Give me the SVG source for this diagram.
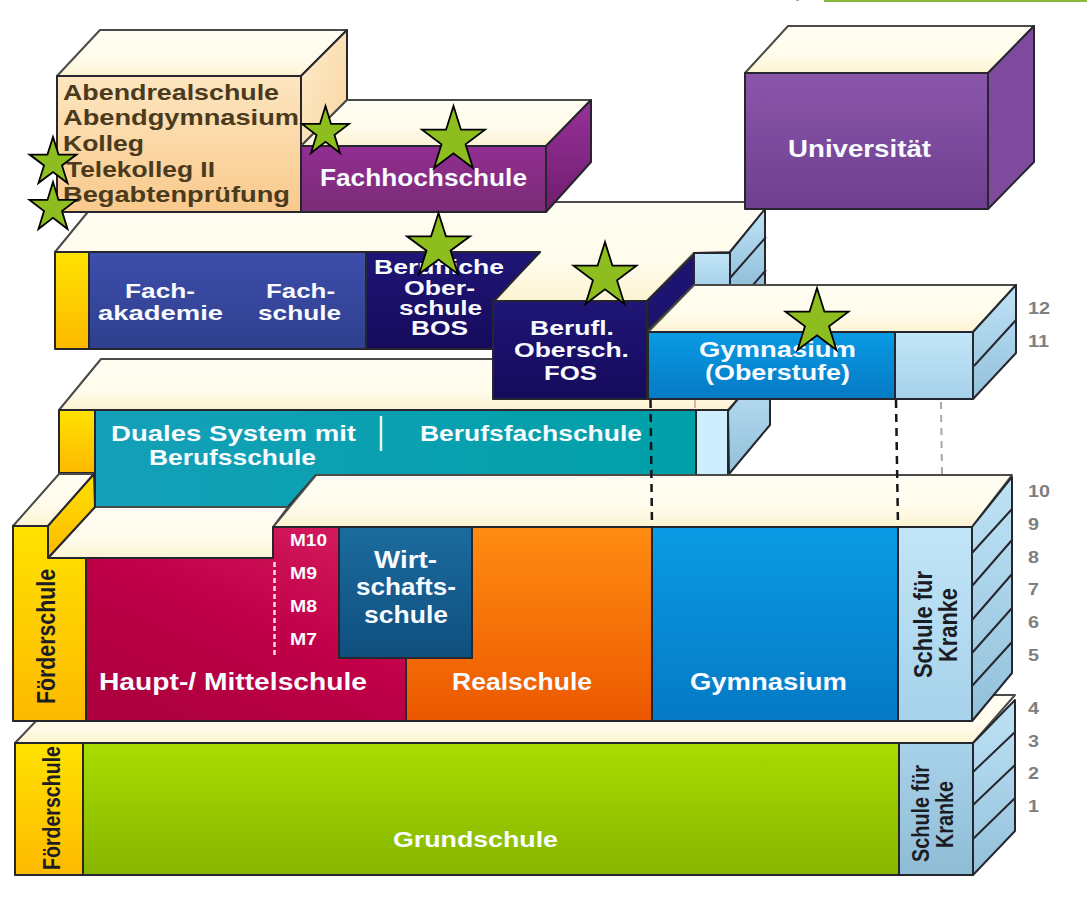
<svg xmlns="http://www.w3.org/2000/svg" width="1087" height="905" viewBox="0 0 1087 905">
<defs>
<linearGradient id="gCream" x1="0" y1="0" x2="0" y2="1"><stop offset="0" stop-color="#fffdf3"/><stop offset="0.6" stop-color="#fffcec"/><stop offset="1" stop-color="#fcf3d2"/></linearGradient>
<linearGradient id="gAbend" x1="0" y1="0" x2="0" y2="1"><stop offset="0" stop-color="#fde6c0"/><stop offset="1" stop-color="#f9c98c"/></linearGradient>
<linearGradient id="gAbendS" x1="0" y1="0" x2="1" y2="1"><stop offset="0" stop-color="#feeccd"/><stop offset="1" stop-color="#f9d59e"/></linearGradient>
<linearGradient id="gFH" x1="0" y1="0" x2="0" y2="1"><stop offset="0" stop-color="#922d92"/><stop offset="1" stop-color="#7a2d76"/></linearGradient>
<linearGradient id="gFHS" x1="0" y1="0" x2="0" y2="1"><stop offset="0" stop-color="#97329a"/><stop offset="1" stop-color="#701c6e"/></linearGradient>
<linearGradient id="gUni" x1="0" y1="0" x2="0" y2="1"><stop offset="0" stop-color="#8b56aa"/><stop offset="1" stop-color="#6e3f8f"/></linearGradient>
<linearGradient id="gYel" x1="0" y1="0" x2="0" y2="1"><stop offset="0" stop-color="#ffe200"/><stop offset="1" stop-color="#fdb900"/></linearGradient>
<linearGradient id="gBlue" x1="0" y1="0" x2="0" y2="1"><stop offset="0" stop-color="#3d4eab"/><stop offset="1" stop-color="#2f3f8e"/></linearGradient>
<linearGradient id="gNavy" x1="0" y1="0" x2="0" y2="1"><stop offset="0" stop-color="#1f1676"/><stop offset="1" stop-color="#160a5c"/></linearGradient>
<linearGradient id="gGym" x1="0" y1="0" x2="0" y2="1"><stop offset="0" stop-color="#0a9be4"/><stop offset="1" stop-color="#0579c4"/></linearGradient>
<linearGradient id="gLight" x1="0" y1="0" x2="0" y2="1"><stop offset="0" stop-color="#c2e5f8"/><stop offset="1" stop-color="#a6d2ea"/></linearGradient>
<linearGradient id="gLight2" x1="0" y1="0" x2="0" y2="1"><stop offset="0" stop-color="#a8d2ea"/><stop offset="1" stop-color="#8fbcd5"/></linearGradient>
<linearGradient id="gSide" x1="0" y1="0" x2="0" y2="1"><stop offset="0" stop-color="#bfe3f6"/><stop offset="1" stop-color="#92c0da"/></linearGradient>
<linearGradient id="gTeal" x1="0" y1="0" x2="1" y2="0"><stop offset="0" stop-color="#14a0b8"/><stop offset="1" stop-color="#00a0a8"/></linearGradient>
<linearGradient id="gRed" x1="1" y1="0" x2="0.3" y2="1"><stop offset="0" stop-color="#d82060"/><stop offset="0.55" stop-color="#c00048"/><stop offset="1" stop-color="#ae003e"/></linearGradient>
<linearGradient id="gOr" x1="0" y1="0" x2="0" y2="1"><stop offset="0" stop-color="#ff8c12"/><stop offset="1" stop-color="#ec5800"/></linearGradient>
<linearGradient id="gWirt" x1="0" y1="0" x2="0" y2="1"><stop offset="0" stop-color="#1c6b9e"/><stop offset="1" stop-color="#0f4f7e"/></linearGradient>
<linearGradient id="gGreen" x1="0" y1="0" x2="0" y2="1"><stop offset="0" stop-color="#a8dc00"/><stop offset="1" stop-color="#87b600"/></linearGradient>
<polygon id="star" vector-effect="non-scaling-stroke" points="0,0 .118,.382 .5,.382 .191,.618 .309,1 0,.764 -.309,1 -.191,.618 -.5,.382 -.118,.382"/>
</defs>
<style>
.e{stroke:#26262e;stroke-width:2;stroke-linejoin:round}
.c{fill:url(#gCream);stroke:#4a4a48;stroke-width:2;stroke-linejoin:round}
.d{stroke:#26262e;stroke-width:2;fill:none}
text{font-family:"Liberation Sans",Arial,sans-serif;font-weight:700}
.w{fill:#f8fbff}
.k{fill:#1c1c24}
.b{fill:#4a3a1e}
.n{fill:#7f7f7f}
.s{fill:#8dbd1e;stroke:#000;stroke-width:1.800;stroke-linejoin:miter}
.dash{fill:none;stroke:#15151a;stroke-width:2.500;stroke-dasharray:8 6}
</style>
<rect width="1087" height="905" fill="#fff"/>
<rect x="824" y="0" width="263" height="2" fill="#86b83a"/>
<rect x="796" y="0" width="3" height="1" fill="#aaa"/>

<g id="node-fachakademie-reihe">
<polygon class="c" points="55,252 96,202 771,202 730,252 694,253 647,301 493,301 540,252"/>
<polygon points="730,252 765,209 765,285 730,285" fill="url(#gSide)" class="e"/>
<path class="d" d="M730,278 L766,237 M753,285 L766,270"/>
<rect x="694" y="253" width="36" height="32" fill="url(#gLight)" class="e"/>
<rect x="55" y="252" width="34" height="97" fill="url(#gYel)" class="e"/>
<rect x="89" y="252" width="277" height="97" fill="url(#gBlue)" class="e"/>
<polygon points="366,252 540,252 495,300 493,349 366,349" fill="url(#gNavy)" class="e"/>
<text class="w" x="125" y="298" font-size="21" textLength="70" lengthAdjust="spacingAndGlyphs">Fach-</text>
<text class="w" x="98" y="320" font-size="21" textLength="125" lengthAdjust="spacingAndGlyphs">akademie</text>
<text class="w" x="266" y="298" font-size="21" textLength="69" lengthAdjust="spacingAndGlyphs">Fach-</text>
<text class="w" x="258" y="320" font-size="21" textLength="83" lengthAdjust="spacingAndGlyphs">schule</text>
<text class="w" x="374" y="274" font-size="20" textLength="130" lengthAdjust="spacingAndGlyphs">Berufliche</text>
<text class="w" x="404" y="295" font-size="20" textLength="71" lengthAdjust="spacingAndGlyphs">Ober-</text>
<text class="w" x="399" y="315" font-size="20" textLength="83" lengthAdjust="spacingAndGlyphs">schule</text>
<text class="w" x="411" y="335" font-size="20" textLength="57" lengthAdjust="spacingAndGlyphs">BOS</text>
</g>

<g id="node-duales-system">
<polygon class="c" points="59,410 101,359 775,359 728,410"/>
<polygon points="728,411 770,360 770,425 729,474" fill="url(#gSide)" class="e"/>
<rect x="59" y="410" width="36" height="63" fill="url(#gYel)" class="e"/>
<polygon points="95,410 696,410 696,475 316,475 288,507 95,507" fill="url(#gTeal)" class="e"/>
<rect x="696" y="410" width="32" height="65" fill="#cdeefc" class="e"/>
<path d="M381,416 V451" stroke="#e8f6f8" stroke-width="2.500" fill="none"/>
<text class="w" x="111" y="441" font-size="22" textLength="245" lengthAdjust="spacingAndGlyphs">Duales System mit</text>
<text class="w" x="149" y="465" font-size="22" textLength="167" lengthAdjust="spacingAndGlyphs">Berufsschule</text>
<text class="w" x="420" y="441" font-size="22" textLength="222" lengthAdjust="spacingAndGlyphs">Berufsfachschule</text>
</g>

<g id="node-universitaet">
<polygon class="c" points="745,73 788,26 1034,26 988,73"/>
<polygon points="988,73 1034,26 1034,162 988,209" fill="#7d4a9e" class="e"/>
<rect x="745" y="73" width="243" height="136" fill="url(#gUni)" class="e"/>
<text class="w" x="788" y="157" font-size="24" textLength="143" lengthAdjust="spacingAndGlyphs">Universität</text>
</g>

<g id="node-abendschulen">
<polygon class="c" points="57,76 100,30 347,30 301,76"/>
<polygon points="301,76 347,30 347,100 301,146" fill="url(#gAbendS)" class="e"/>
<rect x="57" y="76" width="244" height="136" fill="url(#gAbend)" class="e"/>
<text class="b" x="63" y="100" font-size="22" textLength="216" lengthAdjust="spacingAndGlyphs">Abendrealschule</text>
<text class="b" x="63" y="125" font-size="22" textLength="236" lengthAdjust="spacingAndGlyphs">Abendgymnasium</text>
<text class="b" x="63" y="151" font-size="22" textLength="81" lengthAdjust="spacingAndGlyphs">Kolleg</text>
<text class="b" x="66" y="177" font-size="22" textLength="149" lengthAdjust="spacingAndGlyphs">Telekolleg II</text>
<text class="b" x="63" y="202" font-size="22" textLength="227" lengthAdjust="spacingAndGlyphs">Begabtenprüfung</text>
</g>

<g id="node-fachhochschule">
<polygon class="c" points="301,146 347,100 591,100 546,146"/>
<polygon points="546,146 591,100 591,162 546,212" fill="url(#gFHS)" class="e"/>
<rect x="301" y="146" width="245" height="66" fill="url(#gFH)" class="e"/>
<text class="w" x="320" y="186" font-size="23" textLength="207" lengthAdjust="spacingAndGlyphs">Fachhochschule</text>
</g>

<g id="node-fos">
<polygon points="647,301 694,255 694,285 648,330" fill="#1c1470" class="e"/>
<rect x="493" y="301" width="154" height="98" fill="url(#gNavy)" class="e"/>
<text class="w" x="530" y="335" font-size="21" textLength="84" lengthAdjust="spacingAndGlyphs">Berufl.</text>
<text class="w" x="514" y="357" font-size="21" textLength="115" lengthAdjust="spacingAndGlyphs">Obersch.</text>
<text class="w" x="544" y="380" font-size="21" textLength="53" lengthAdjust="spacingAndGlyphs">FOS</text>
</g>

<g id="node-gymnasium-oberstufe">
<polygon class="c" points="648,332 694,285 1016,285 973,332"/>
<polygon points="973,332 1016,285 1016,353 973,399" fill="url(#gSide)" class="e"/>
<path class="d" d="M974,366 L1016,320"/>
<rect x="648" y="332" width="247" height="67" fill="url(#gGym)" class="e"/>
<rect x="895" y="332" width="78" height="67" fill="url(#gLight)" class="e"/>
<text class="w" x="699" y="357" font-size="22" textLength="157" lengthAdjust="spacingAndGlyphs">Gymnasium</text>
<text class="w" x="705" y="380" font-size="22" textLength="145" lengthAdjust="spacingAndGlyphs">(Oberstufe)</text>
</g>

<g id="node-grundschule">
<polygon class="c" points="15,743 36,721 972,721 993,695 1015,695 973,743"/>
<polygon points="973,743 1015,700 1015,831 973,875" fill="url(#gSide)" class="e"/>
<path class="d" d="M973,772 L1015,732 M973,805 L1015,765 M973,839 L1015,798"/>
<rect x="15" y="743" width="68" height="132" fill="url(#gYel)" class="e"/>
<rect x="83" y="743" width="816" height="132" fill="url(#gGreen)" class="e"/>
<rect x="899" y="743" width="74" height="132" fill="url(#gLight2)" class="e"/>
<text class="w" x="393" y="847" font-size="22" textLength="165" lengthAdjust="spacingAndGlyphs">Grundschule</text>
<text class="k" transform="translate(59.500,870) rotate(-90)" font-size="24" textLength="124" lengthAdjust="spacingAndGlyphs">Förderschule</text>
<text class="k" transform="translate(929,862) rotate(-90)" font-size="24" textLength="97" lengthAdjust="spacingAndGlyphs">Schule für</text>
<text class="k" transform="translate(953,848) rotate(-90)" font-size="24" textLength="67" lengthAdjust="spacingAndGlyphs">Kranke</text>
</g>

<g id="node-sekundarstufe">
<polygon class="c" points="273,527 316,475 1012,475 972,527"/>
<polygon class="c" points="48,558 95,507 288,507 273,527 273,558"/>
<polygon class="c" points="13,526 59,474 94,474 48,526"/>
<polygon points="48,526 94,474 95,507 48,558" fill="url(#gYel)" class="e"/>
<polygon points="972,527 1012,477 1012,673 972,721" fill="url(#gSide)" class="e"/>
<path class="d" d="M972,553 L1012,509 M972,586 L1012,540 M972,620 L1012,574 M972,653 L1012,608 M972,686 L1012,642"/>
<polygon points="13,526 48,526 48,558 86,558 86,721 13,721" fill="url(#gYel)" class="e"/>
<polygon points="86,558 273,558 273,527 339,527 339,657 406,657 406,721 86,721" fill="url(#gRed)" class="e"/>
<polygon points="472,527 652,527 652,721 406,721 406,657 472,657" fill="url(#gOr)" class="e"/>
<rect x="339" y="527" width="133" height="131" fill="url(#gWirt)" class="e"/>
<rect x="652" y="527" width="246" height="194" fill="url(#gGym)" class="e"/>
<rect x="898" y="527" width="74" height="194" fill="url(#gLight)" class="e"/>
<path d="M274.500,562 V657" stroke="#f7dbe6" stroke-width="2.500" stroke-dasharray="5 3" fill="none"/>
<text class="w" x="290" y="546" font-size="16" textLength="37" lengthAdjust="spacingAndGlyphs">M10</text>
<text class="w" x="290" y="579" font-size="16" textLength="27" lengthAdjust="spacingAndGlyphs">M9</text>
<text class="w" x="290" y="612" font-size="16" textLength="27" lengthAdjust="spacingAndGlyphs">M8</text>
<text class="w" x="290" y="645" font-size="16" textLength="27" lengthAdjust="spacingAndGlyphs">M7</text>
<text class="w" x="374" y="568" font-size="24" textLength="63" lengthAdjust="spacingAndGlyphs">Wirt-</text>
<text class="w" x="356" y="595" font-size="24" textLength="100" lengthAdjust="spacingAndGlyphs">schafts-</text>
<text class="w" x="364" y="623" font-size="24" textLength="84" lengthAdjust="spacingAndGlyphs">schule</text>
<text class="w" x="99" y="690" font-size="23" textLength="268" lengthAdjust="spacingAndGlyphs">Haupt-/ Mittelschule</text>
<text class="w" x="452" y="690" font-size="23" textLength="140" lengthAdjust="spacingAndGlyphs">Realschule</text>
<text class="w" x="690" y="690" font-size="23" textLength="157" lengthAdjust="spacingAndGlyphs">Gymnasium</text>
<text class="k" transform="translate(55,704) rotate(-90)" font-size="26" textLength="135" lengthAdjust="spacingAndGlyphs">Förderschule</text>
<text class="k" transform="translate(932,678) rotate(-90)" font-size="26" textLength="107" lengthAdjust="spacingAndGlyphs">Schule für</text>
<text class="k" transform="translate(957,662) rotate(-90)" font-size="26" textLength="74" lengthAdjust="spacingAndGlyphs">Kranke</text>
</g>

<g id="connectors">
<path class="dash" d="M650.500,400 L652,527"/>
<path class="dash" d="M896,400 L898,527"/>
<path d="M941,402 L942,475" fill="none" stroke="#a8a8a8" stroke-width="2" stroke-dasharray="7 6"/>
<path d="M695,400 V408" fill="none" stroke="#a87868" stroke-width="1"/>
</g>

<g id="grades">
<text class="n" x="1028" y="314" font-size="16" textLength="22" lengthAdjust="spacingAndGlyphs">12</text>
<text class="n" x="1028" y="347" font-size="16" textLength="21" lengthAdjust="spacingAndGlyphs">11</text>
<text class="n" x="1028" y="497" font-size="16" textLength="22" lengthAdjust="spacingAndGlyphs">10</text>
<text class="n" x="1028" y="530" font-size="16" textLength="11" lengthAdjust="spacingAndGlyphs">9</text>
<text class="n" x="1028" y="563" font-size="16" textLength="11" lengthAdjust="spacingAndGlyphs">8</text>
<text class="n" x="1028" y="595" font-size="16" textLength="11" lengthAdjust="spacingAndGlyphs">7</text>
<text class="n" x="1028" y="628" font-size="16" textLength="11" lengthAdjust="spacingAndGlyphs">6</text>
<text class="n" x="1028" y="661" font-size="16" textLength="11" lengthAdjust="spacingAndGlyphs">5</text>
<text class="n" x="1028" y="714" font-size="16" textLength="11" lengthAdjust="spacingAndGlyphs">4</text>
<text class="n" x="1028" y="747" font-size="16" textLength="11" lengthAdjust="spacingAndGlyphs">3</text>
<text class="n" x="1028" y="779" font-size="16" textLength="11" lengthAdjust="spacingAndGlyphs">2</text>
<text class="n" x="1028" y="812" font-size="16" textLength="11" lengthAdjust="spacingAndGlyphs">1</text>
</g>

<g id="stars">
<use href="#star" class="s" transform="translate(325.500,106) scale(47,47)"/>
<use href="#star" class="s" transform="translate(453.500,106) scale(63,62)"/>
<use href="#star" class="s" transform="translate(438.500,213) scale(63,61)"/>
<use href="#star" class="s" transform="translate(53,137) scale(47,46)"/>
<use href="#star" class="s" transform="translate(53,182) scale(47,47)"/>
<use href="#star" class="s" transform="translate(605,242) scale(63,62)"/>
<use href="#star" class="s" transform="translate(817,288) scale(63,62)"/>
</g>
</svg>
